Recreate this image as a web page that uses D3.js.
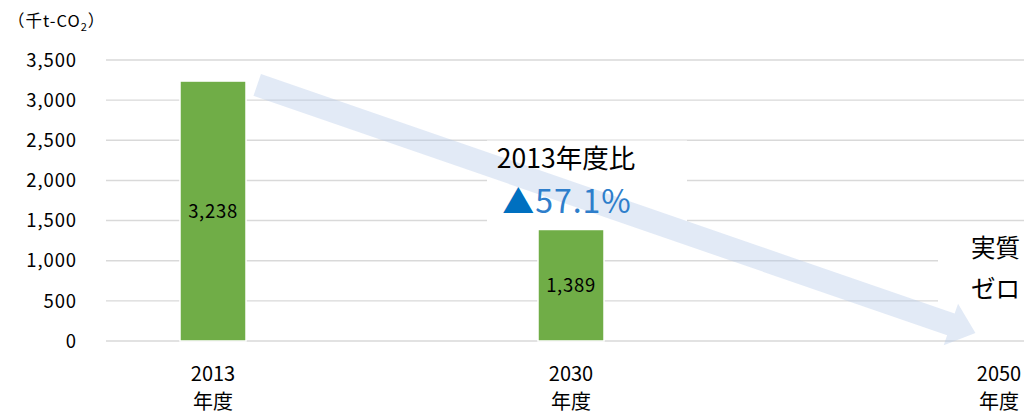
<!DOCTYPE html>
<html>
<head>
<meta charset="utf-8">
<script src="https://cdn.jsdelivr.net/npm/d3@7"></script>
<style>
  html, body { margin: 0; padding: 0; background: #fff; overflow: hidden; }
  svg { display: block; }
  text { font-family: "Noto Sans CJK JP", "Noto Sans", sans-serif; }
</style>
</head>
<body>
<svg id="chart" width="1024" height="414"></svg>
<script>
// CO2 emissions by fiscal year (thousand t-CO2)
const years = [2013, 2030, 2050];
const yearLabels = ["2013", "2030", "2050"];
const emissions = [3238, 1389, null];
const yTicks = [0, 500, 1000, 1500, 2000, 2500, 3000, 3500];
const unitLabel = ["（千t-CO", "2", "）"];
const reductionTitle = "2013年度比";
const reductionValue = "57.1%";
const targetLabel = ["実質", "ゼロ"];
// Trend arrow drawn in data space: [year, value]
const trendStart = [2015.1, 3190];
const trendEnd = [2048.9, 100];

const svg = d3.select("#chart");
const W = 1024, H = 414;

const x = d3.scaleLinear().domain(years).range([213, 571, 999]);
const y = d3.scaleLinear().domain([0, 3500]).range([341, 60]);
const barW = 66;

// gridlines
svg.append("g").selectAll("line").data(yTicks).join("line")
  .attr("x1", 106).attr("x2", W)
  .attr("y1", d => y(d)).attr("y2", d => y(d))
  .attr("stroke", "#d9d9d9").attr("stroke-width", 1.4);

// white boxes behind the annotations
svg.append("rect").attr("x", 487).attr("y", 140.5).attr("width", 200).attr("height", 84).attr("fill", "#fff");
svg.append("rect").attr("x", 938).attr("y", 224).attr("width", 90).attr("height", 96).attr("fill", "#fff");

// y axis labels
svg.append("g").selectAll("text").data(yTicks).join("text")
  .attr("x", 77).attr("y", d => y(d))
  .attr("dy", "0.36em")
  .attr("text-anchor", "end")
  .attr("font-size", 18.5)
  .attr("letter-spacing", 0.9)
  .attr("fill", "#000")
  .text(d => d3.format(",")(d));

// unit label
const unit = svg.append("text").attr("x", 8).attr("y", 27).attr("font-size", 16.5)
  .attr("letter-spacing", 1).attr("fill", "#000");
unit.append("tspan").text(unitLabel[0]);
unit.append("tspan").attr("font-size", 11).attr("dy", 4).text(unitLabel[1]);
unit.append("tspan").attr("dy", -4).text(unitLabel[2]);

// bars
const barData = years.map((yr, i) => ({ yr, v: emissions[i] })).filter(d => d.v != null);
svg.append("g").selectAll("rect").data(barData).join("rect")
  .attr("x", d => x(d.yr) - barW / 2)
  .attr("width", barW)
  .attr("y", d => y(d.v))
  .attr("height", d => y(0) - y(d.v))
  .attr("fill", "#70ad47")
  .attr("stroke", "#fff").attr("stroke-width", 1.5);

// value labels
svg.append("g").selectAll("text").data(barData).join("text")
  .attr("x", d => x(d.yr))
  .attr("y", d => (y(d.v) + y(0)) / 2)
  .attr("dy", "0.36em")
  .attr("text-anchor", "middle")
  .attr("font-size", 18.5)
  .attr("letter-spacing", 0.7)
  .attr("fill", "#000")
  .text(d => d3.format(",")(d.v));

// trend arrow
(function () {
  const x0 = x(trendStart[0]), y0 = y(trendStart[1]);
  const x1 = x(trendEnd[0]), y1 = y(trendEnd[1]);
  const len = Math.hypot(x1 - x0, y1 - y0);
  const ang = Math.atan2(y1 - y0, x1 - x0) * 180 / Math.PI;
  const sw = 11.5, hw = 22, hl = 26;
  const pts = [[0, -sw], [len - hl, -sw], [len - hl, -hw], [len, 0], [len - hl, hw], [len - hl, sw], [0, sw]];
  svg.append("path")
    .attr("d", d3.line()(pts) + "Z")
    .attr("transform", `translate(${x0},${y0}) rotate(${ang})`)
    .attr("fill", "#b4c7e7").attr("fill-opacity", 0.38);
})();

// x axis labels
const xl = svg.append("g").selectAll("text").data(years).join("text")
  .attr("x", d => x(d))
  .attr("text-anchor", "middle")
  .attr("font-size", 20)
  .attr("fill", "#000");
xl.append("tspan").attr("x", d => x(d)).attr("y", 381).text((d, i) => yearLabels[i]);
xl.append("tspan").attr("x", d => x(d)).attr("y", 409).text("年度");

// reduction annotation
svg.append("text").attr("x", 566).attr("y", 168).attr("text-anchor", "middle")
  .attr("font-size", 26.5).attr("fill", "#000").text(reductionTitle);
const red = svg.append("text").attr("x", 567).attr("y", 213).attr("text-anchor", "middle")
  .attr("font-size", 32).attr("letter-spacing", 1);
red.append("tspan").attr("fill", "#0070c0").text("▲");
red.append("tspan").attr("fill", "#2e7ecb").text(reductionValue);

// net-zero annotation
svg.append("g").selectAll("text").data(targetLabel).join("text")
  .attr("x", 971).attr("y", (d, i) => 257 + i * 41)
  .attr("font-size", 24.5).attr("fill", "#000").text(d => d);
</script>
</body>
</html>
